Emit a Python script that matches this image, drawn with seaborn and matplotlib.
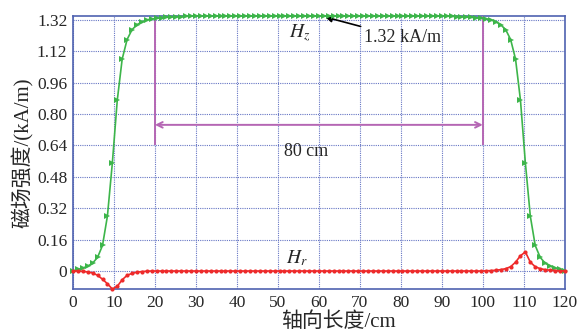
import numpy as np
import pandas as pd
import seaborn as sns
import matplotlib.pyplot as plt

# sample positions along the axis (cm)
x_cm = [0.0, 1.2, 2.4, 3.6, 4.8, 6.0, 7.2, 8.4, 9.6, 10.8,
        12.0, 13.2, 14.4, 15.6, 16.8, 18.0, 19.2, 20.4, 21.6, 22.8,
        24.0, 25.2, 26.4, 27.6, 28.8, 30.0, 31.2, 32.4, 33.6, 34.8,
        36.0, 37.2, 38.4, 39.6, 40.8, 42.0, 43.2, 44.4, 45.6, 46.8,
        48.0, 49.2, 50.4, 51.6, 52.8, 54.0, 55.2, 56.4, 57.6, 58.8,
        60.0, 61.2, 62.4, 63.6, 64.8, 66.0, 67.2, 68.4, 69.6, 70.8,
        72.0, 73.2, 74.4, 75.6, 76.8, 78.0, 79.2, 80.4, 81.6, 82.8,
        84.0, 85.2, 86.4, 87.6, 88.8, 90.0, 91.2, 92.4, 93.6, 94.8,
        96.0, 97.2, 98.4, 99.6, 100.8, 102.0, 103.2, 104.4, 105.6, 106.8,
        108.0, 109.2, 110.4, 111.6, 112.8, 114.0, 115.2, 116.4, 117.6, 118.8,
        120.0]

# axial field Hz (kA/m)
hz = [0.0, 0.008, 0.015, 0.025, 0.04, 0.07, 0.13, 0.28, 0.55, 0.87,
      1.08, 1.18, 1.23, 1.255, 1.27, 1.28, 1.285, 1.288, 1.291, 1.293,
      1.295, 1.296, 1.297, 1.298, 1.299, 1.30, 1.30, 1.30, 1.30, 1.30,
      1.30, 1.30, 1.30, 1.30, 1.30, 1.30, 1.30, 1.30, 1.30, 1.30,
      1.30, 1.30, 1.30, 1.30, 1.30, 1.30, 1.30, 1.30, 1.30, 1.30,
      1.30, 1.30, 1.30, 1.30, 1.30, 1.30, 1.30, 1.30, 1.30, 1.30,
      1.30, 1.30, 1.30, 1.30, 1.30, 1.30, 1.30, 1.30, 1.30, 1.30,
      1.30, 1.30, 1.30, 1.30, 1.30, 1.30, 1.299, 1.298, 1.297, 1.296,
      1.295, 1.293, 1.291, 1.288, 1.285, 1.28, 1.27, 1.255, 1.23, 1.18,
      1.08, 0.87, 0.55, 0.28, 0.13, 0.07, 0.04, 0.025, 0.015, 0.008,
      0.0]

# radial field Hr (kA/m)
hr = [0.0, 0.0, -0.002, -0.005, -0.01, -0.022, -0.042, -0.065, -0.092, -0.078,
      -0.045, -0.022, -0.012, -0.006, -0.003, -0.001, 0.0, 0.0, 0.0, 0.0,
      0.0, 0.0, 0.0, 0.0, 0.0, 0.0, 0.0, 0.0, 0.0, 0.0,
      0.0, 0.0, 0.0, 0.0, 0.0, 0.0, 0.0, 0.0, 0.0, 0.0,
      0.0, 0.0, 0.0, 0.0, 0.0, 0.0, 0.0, 0.0, 0.0, 0.0,
      0.0, 0.0, 0.0, 0.0, 0.0, 0.0, 0.0, 0.0, 0.0, 0.0,
      0.0, 0.0, 0.0, 0.0, 0.0, 0.0, 0.0, 0.0, 0.0, 0.0,
      0.0, 0.0, 0.0, 0.0, 0.0, 0.0, 0.0, 0.0, 0.0, 0.0,
      0.0, 0.0, 0.0, 0.0, 0.001, 0.002, 0.004, 0.007, 0.012, 0.022,
      0.045, 0.078, 0.097, 0.045, 0.022, 0.012, 0.007, 0.004, 0.002, 0.001,
      0.0]

x_ticks = [0, 10, 20, 30, 40, 50, 60, 70, 80, 90, 100, 110, 120]
y_ticks = [0, 0.16, 0.32, 0.48, 0.64, 0.80, 0.96, 1.12, 1.28]
y_tick_labels = ['0', '0.16', '0.32', '0.48', '0.64', '0.80', '0.96', '1.12', '1.32']

df = pd.DataFrame({'x': x_cm, 'hz': hz, 'hr': hr})

sns.set_style('white')
plt.rcParams['font.family'] = ['Liberation Serif', 'Noto Sans CJK SC']
plt.rcParams['mathtext.fontset'] = 'stix'

blue = '#4f62b0'
green = '#3db54a'
red = '#ee2a2a'
purple = '#b566b4'

fig = plt.figure(figsize=(5.84, 3.33), dpi=100)
ax = fig.add_axes([0.125, 0.132, 0.842, 0.820])

sns.lineplot(data=df, x='x', y='hz', ax=ax, color=green, lw=1.2,
             marker='>', markersize=4, markeredgewidth=0, clip_on=False, zorder=4)
sns.lineplot(data=df, x='x', y='hr', ax=ax, color=red, lw=1.2,
             marker='o', markersize=3, markeredgewidth=0, clip_on=False, zorder=4)

ax.set_xlim(0, 120)
ax.set_ylim(-0.092, 1.30)
ax.set_xticks(x_ticks)
ax.set_yticks(y_ticks)
ax.set_yticklabels(y_tick_labels)
ax.tick_params(direction='in', length=3, color=blue, labelsize=12.5, pad=4)

ax.grid(True, color='#6676c4', linestyle=(0, (1, 1)), linewidth=0.8)
for s in ax.spines.values():
    s.set_color(blue)
    s.set_linewidth(1.2)

ax.set_xlabel('轴向长度/cm', fontsize=15)
ax.set_ylabel('磁场强度/(kA/m)', fontsize=15, labelpad=2)
ax.xaxis.set_label_coords(0.54, -0.085)

# 80 cm span markers
ax.vlines([20, 100], 0.64, 1.30, color=purple, lw=1.4, zorder=3)
ax.annotate('', xy=(20, 0.745), xytext=(100, 0.745),
            arrowprops=dict(arrowstyle='<->', color=purple, lw=1.4,
                            shrinkA=0, shrinkB=0, mutation_scale=10))
ax.text(57, 0.61, '80 cm', fontsize=13, ha='center', va='center')

ax.text(55.4, 1.21, r'$H_z$', fontsize=14, ha='center', va='center')
ax.text(54.6, 0.066, r'$H_r$', fontsize=14, ha='center', va='center')
ax.annotate('1.32 kA/m', xy=(61.5, 1.295), xytext=(71.0, 1.19),
            fontsize=13, ha='left', va='center',
            arrowprops=dict(arrowstyle='-|>', color='black', lw=1.2,
                            shrinkA=0, shrinkB=0, mutation_scale=10))

fig.savefig('out.png', dpi=100)
